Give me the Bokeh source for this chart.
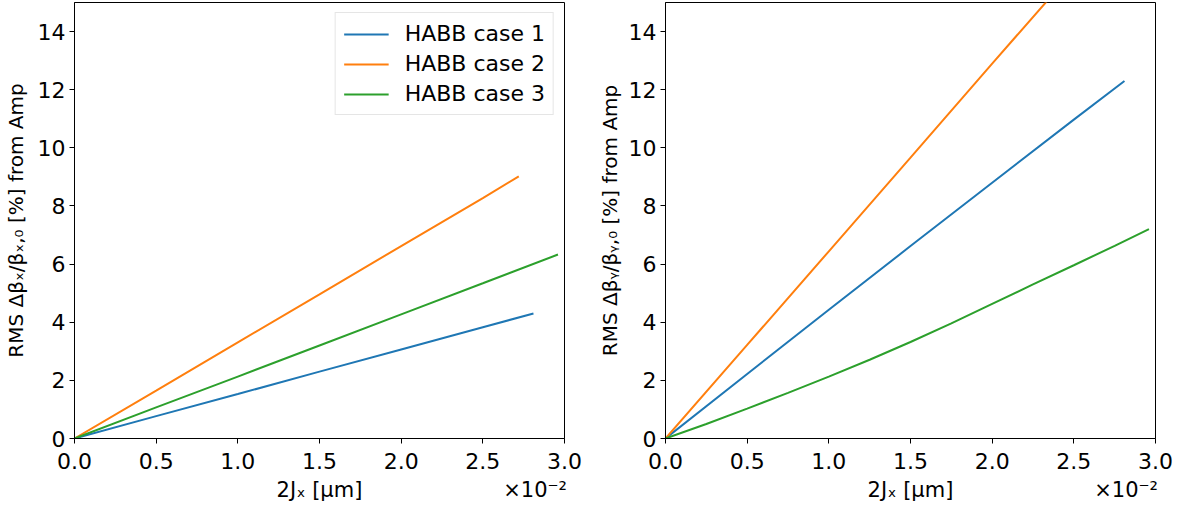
from bokeh.plotting import figure
from bokeh.layouts import row
from bokeh.models import (Range1d, FixedTicker, Legend, LegendItem,
                          CustomJSTickFormatter, LinearAxis)
from bokeh.embed import file_html
from bokeh.resources import INLINE

# x in units of 1e-2 um
x_c1 = [0.0, 0.5, 1.0, 1.5, 2.0, 2.5, 2.81]
x_c2 = [0.0, 0.5, 1.0, 1.5, 2.0, 2.5, 2.72]
x_c3 = [0.0, 0.5, 1.0, 1.5, 2.0, 2.5, 2.96]
x_c3_fine = [0.0, 0.25, 0.5, 0.75, 1.0, 1.25, 1.5, 1.75, 2.0, 2.25, 2.5, 2.75, 2.96]

left_c1 = [0.0, 0.77, 1.53, 2.30, 3.06, 3.83, 4.30]
left_c2 = [0.0, 1.65, 3.31, 4.96, 6.62, 8.27, 9.02]
left_c3 = [0.0, 1.07, 2.13, 3.20, 4.27, 5.34, 6.33]

right_c1 = [0.0, 2.22, 4.43, 6.62, 8.80, 10.97, 12.3]
right_c2 = [0.0, 3.22, 6.44, 9.66, 12.9, 16.1, 17.5]
right_c3 = [0.0, 0.50, 1.03, 1.57, 2.13, 2.71, 3.32, 3.96, 4.63, 5.30, 5.96, 6.63, 7.20]

labels = ["HABB case 1", "HABB case 2", "HABB case 3"]
colors = ["#1f77b4", "#ff7f0e", "#2ca02c"]
x_ticks = [0.0, 0.5, 1.0, 1.5, 2.0, 2.5, 3.0]
y_ticks = [0, 2, 4, 6, 8, 10, 12, 14]
x_label = "2Jₓ [μm]"
x_offset_text = "×10⁻²"

FONT = "DejaVu Sans"


def make_fig(width, border_left, border_right, ylabel, xs, ys, legend, ylab_standoff):
    p = figure(width=width, height=510, output_backend="svg", toolbar_location=None,
               x_range=Range1d(0, 3.0), y_range=Range1d(0, 15),
               min_border_left=border_left, min_border_right=border_right,
               min_border_top=2, min_border_bottom=72)
    p.grid.visible = False
    p.outline_line_color = "black"
    p.outline_line_width = 1
    p.outline_line_alpha = 1
    rs = []
    for xv, yv, c in zip(xs, ys, colors):
        rs.append(p.line(xv, yv, line_color=c, line_width=2))
    for ax in (p.xaxis[0], p.yaxis[0]):
        ax.major_label_text_font = FONT
        ax.major_label_text_font_size = "22px"
        ax.major_label_text_color = "black"
        ax.axis_label_text_font = FONT
        ax.axis_label_text_font_size = "20px"
        ax.axis_label_text_font_style = "normal"
        ax.axis_label_text_color = "black"
        ax.major_tick_out = 5
        ax.major_tick_in = 0
        ax.minor_tick_line_color = None
        ax.axis_line_color = "black"
        ax.major_tick_line_color = "black"
    p.xaxis.ticker = FixedTicker(ticks=x_ticks)
    p.yaxis.ticker = FixedTicker(ticks=y_ticks)
    p.xaxis.formatter = CustomJSTickFormatter(code="return tick.toFixed(1);")
    p.yaxis.axis_label = ylabel
    p.yaxis.axis_label_standoff = ylab_standoff
    p.xaxis.major_label_standoff = 9
    p.yaxis.major_label_standoff = 4

    # second (text-only) axis carrying the x label and the offset text on one line
    lab_axis = LinearAxis(
        ticker=FixedTicker(ticks=[1.5, 2.82]),
        formatter=CustomJSTickFormatter(
            args=dict(a=x_label, b=x_offset_text),
            code="return tick < 2 ? a : b;"),
        axis_line_color=None, major_tick_line_color=None, minor_tick_line_color=None,
        major_tick_out=0, major_tick_in=0, major_label_standoff=6,
        major_label_text_font=FONT, major_label_text_font_size="21px",
        major_label_text_color="black")
    p.add_layout(lab_axis, "below")

    if legend:
        items = [LegendItem(label=l, renderers=[r]) for l, r in zip(labels, rs)]
        lg = Legend(items=items, location="top_right", margin=10,
                    label_text_font=FONT, label_text_font_size="22px",
                    label_text_color="black",
                    glyph_width=45, glyph_height=24, spacing=5, padding=8,
                    label_standoff=16,
                    border_line_color="#cccccc", border_line_width=1,
                    background_fill_alpha=0.8)
        p.add_layout(lg)
    return p


p1 = make_fig(583, 74, 19, "RMS Δβₓ/βₓ,₀ [%] from Amp",
              [x_c1, x_c2, x_c3], [left_c1, left_c2, left_c3], True, 7)
p2 = make_fig(596, 82, 24, "RMS Δβᵧ/βᵧ,₀ [%] from Amp",
              [x_c1, x_c2, x_c3_fine], [right_c1, right_c2, right_c3], False, 4)

layout = row(p1, p2)
open("out.html", "w").write(file_html(layout, INLINE))
